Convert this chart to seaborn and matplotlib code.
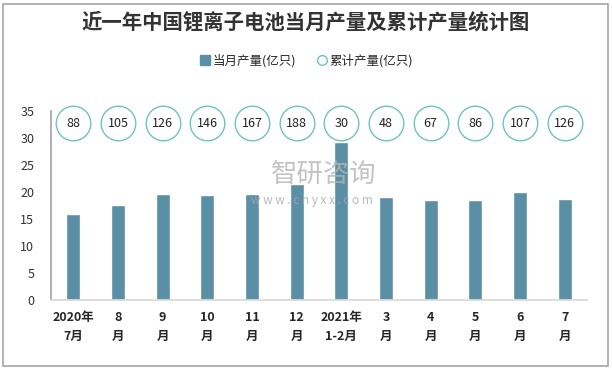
import numpy as np
import pandas as pd
import seaborn as sns
import matplotlib.pyplot as plt
from matplotlib.patches import Rectangle
from matplotlib.lines import Line2D

# data
months = ['2020年\n7月', '8\n月', '9\n月', '10\n月', '11\n月', '12\n月',
          '2021年\n1-2月', '3\n月', '4\n月', '5\n月', '6\n月', '7\n月']
monthly = [15.9, 17.6, 19.6, 19.4, 19.6, 21.4, 29.3, 19.1, 18.5, 18.5, 20.0, 18.7]
cumulative = [88, 105, 126, 146, 167, 188, 30, 48, 67, 86, 107, 126]
circle_row = 32.7  # height where the cumulative bubbles sit

bar_color = '#5b8fa6'
ring_color = '#6cc5bb'

sns.set_theme(style='white')
plt.rcParams['font.family'] = ['Noto Sans CJK SC', 'DejaVu Sans']

df = pd.DataFrame({'month': months, 'monthly': monthly, 'cumulative': cumulative})
df['row'] = circle_row

fig = plt.figure(figsize=(6.12, 3.69), dpi=100)
fig.patches.append(Rectangle((3 / 612, 3 / 369), 605 / 612, 362 / 369,
                             transform=fig.transFigure, fill=False,
                             edgecolor='#a6a6a6', linewidth=1.2))
ax = fig.add_axes([51 / 612, 69 / 369, 536 / 612, 189 / 369])

sns.barplot(data=df, x='month', y='monthly', color=bar_color, width=0.31,
            saturation=1, ax=ax)
sns.scatterplot(data=df, x='month', y='row', s=620, facecolor='white',
                edgecolor=ring_color, linewidth=1.0, ax=ax, zorder=3,
                clip_on=False)
for i, v in enumerate(cumulative):
    ax.text(i, circle_row, str(v), ha='center', va='center', fontsize=9,
            color='#222222', zorder=4)

ax.set_xlim(-0.5, 11.5)
ax.set_ylim(0, 35)
ax.set_yticks(range(0, 36, 5))
ax.set_xlabel('')
ax.set_ylabel('')
ax.tick_params(axis='y', length=0, labelsize=9, labelcolor='#333333', pad=12)
ax.tick_params(axis='x', which='major', length=0, labelsize=9, pad=8)
ax.set_xticks(np.arange(-0.5, 12, 1), minor=True)
ax.tick_params(axis='x', which='minor', length=5, color='#d9d9d9', width=1)
for lab in ax.get_xticklabels():
    lab.set_fontweight('bold')
    lab.set_linespacing(1.6)

for s in ['top', 'right']:
    ax.spines[s].set_visible(False)
ax.spines['left'].set_color('#a6a6a6')
ax.spines['bottom'].set_color('#d9d9d9')

# watermark
ax.text(0.508, 0.665, '智研咨询', transform=ax.transAxes, ha='center',
        va='center', fontsize=19, color='#b5b5b5', alpha=0.8, zorder=5)
ax.text(0.487, 0.525, 'w w w . c h y x x . c o m', transform=ax.transAxes,
        ha='center', va='center', fontsize=8.5, color='#a8a8a8', alpha=0.8,
        zorder=5)

fig.text(0.5, 0.94, '近一年中国锂离子电池当月产量及累计产量统计图',
         ha='center', va='center', fontsize=14.7, fontweight='bold',
         color='#333333')

handles = [
    Line2D([], [], marker='s', linestyle='', markersize=7,
           markerfacecolor=bar_color, markeredgecolor=bar_color),
    Line2D([], [], marker='o', linestyle='', markersize=7,
           markerfacecolor='white', markeredgecolor=ring_color),
]
fig.legend(handles, ['当月产量(亿只)', '累计产量(亿只)'], loc='center',
           bbox_to_anchor=(0.5, 0.835), ncol=2, frameon=False, fontsize=9,
           handletextpad=0.1, columnspacing=1.6, handlelength=1)

fig.savefig('out.png', dpi=100)
